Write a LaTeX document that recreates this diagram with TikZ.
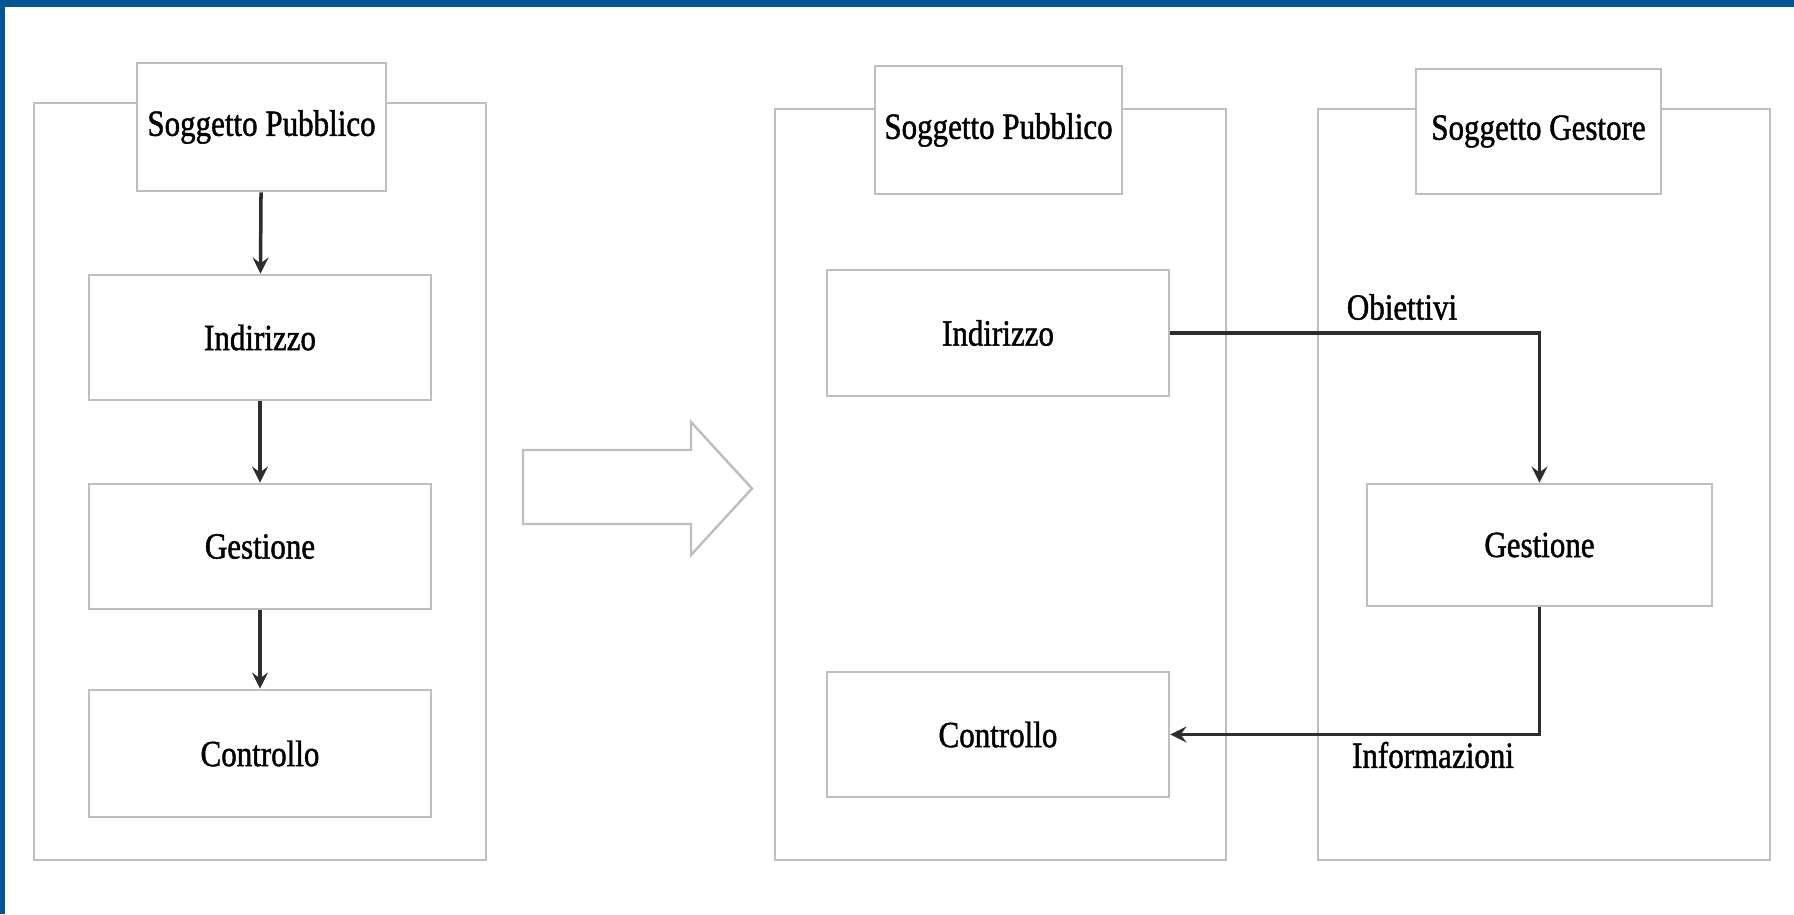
\documentclass[tikz,border=0pt]{standalone}
\usepackage{fontspec}
\setmainfont{Liberation Serif}[FakeStretch=0.84, FakeBold=1.2]
\definecolor{bordoblu}{RGB}{0,85,150}
\definecolor{lineagrigia}{RGB}{190,190,190}
\definecolor{frecciascura}{RGB}{45,45,45}

\begin{document}
\begin{tikzpicture}[
        box/.style={draw=lineagrigia, line width=0.8pt, fill=white, inner sep=2pt,
                    font=\fontsize{10.5}{12}\selectfont, text=black},
        panel/.style={draw=lineagrigia, line width=0.8pt},
        arr/.style={->, >=stealth, line width=1pt, frecciascura},
        lbl/.style={font=\fontsize{10.5}{12}\selectfont, text=black},
    ]
        \useasboundingbox (0,0) rectangle (17.94,9.14);
        \fill[white] (0,0) rectangle (17.94,9.14);
        \fill[bordoblu] (0,9.07) rectangle (17.94,9.14);
        \fill[bordoblu] (0,0) rectangle (0.05,9.14);

        % Situazione iniziale
        \node[panel, minimum width=4.52cm, minimum height=7.57cm] (pan1) at (2.60, 4.325) {};
        \node[box, minimum width=2.49cm, minimum height=1.28cm] (sp1) at (2.615, 7.87) {Soggetto Pubblico};
        \node[box, minimum width=3.42cm, minimum height=1.25cm] (ind1) at (2.60, 5.765) {Indirizzo};
        \node[box, minimum width=3.42cm, minimum height=1.25cm] (ges1) at (2.60, 3.675) {Gestione};
        \node[box, minimum width=3.42cm, minimum height=1.27cm] (ctrl1) at (2.60, 1.605) {Controllo};

        \draw[arr] (sp1) -- (ind1);
        \draw[arr] (ind1) -- (ges1);
        \draw[arr] (ges1) -- (ctrl1);

        % Freccia di passaggio
        \draw[lineagrigia, line width=0.7pt, fill=white]
            (5.23, 4.64) -- (6.91, 4.64) -- (6.91, 4.92) -- (7.52, 4.255)
            -- (6.91, 3.59) -- (6.91, 3.90) -- (5.23, 3.90) -- cycle;

        % Soggetto pubblico e soggetto gestore
        \node[panel, minimum width=4.51cm, minimum height=7.51cm] (pan2) at (10.005, 4.295) {};
        \node[panel, minimum width=4.52cm, minimum height=7.51cm] (pan3) at (15.44, 4.295) {};
        \node[box, minimum width=2.47cm, minimum height=1.28cm] (sp2) at (9.985, 7.84) {Soggetto Pubblico};
        \node[box, minimum width=2.45cm, minimum height=1.25cm] (sg) at (15.385, 7.825) {Soggetto Gestore};
        \node[box, minimum width=3.42cm, minimum height=1.26cm] (ind2) at (9.98, 5.81) {Indirizzo};
        \node[box, minimum width=3.42cm, minimum height=1.25cm] (ctrl2) at (9.98, 1.795) {Controllo};
        \node[box, minimum width=3.45cm, minimum height=1.22cm] (ges2) at (15.395, 3.69) {Gestione};
        \node[lbl] (obi) at (14.02, 6.07) {Obiettivi};
        \node[lbl] (inf) at (14.33, 1.59) {Informazioni};

        \draw[arr] (ind2.east) -| (ges2.north);
        \draw[arr] (ges2.south) |- (ctrl2.east);
    \end{tikzpicture}
\end{document}
